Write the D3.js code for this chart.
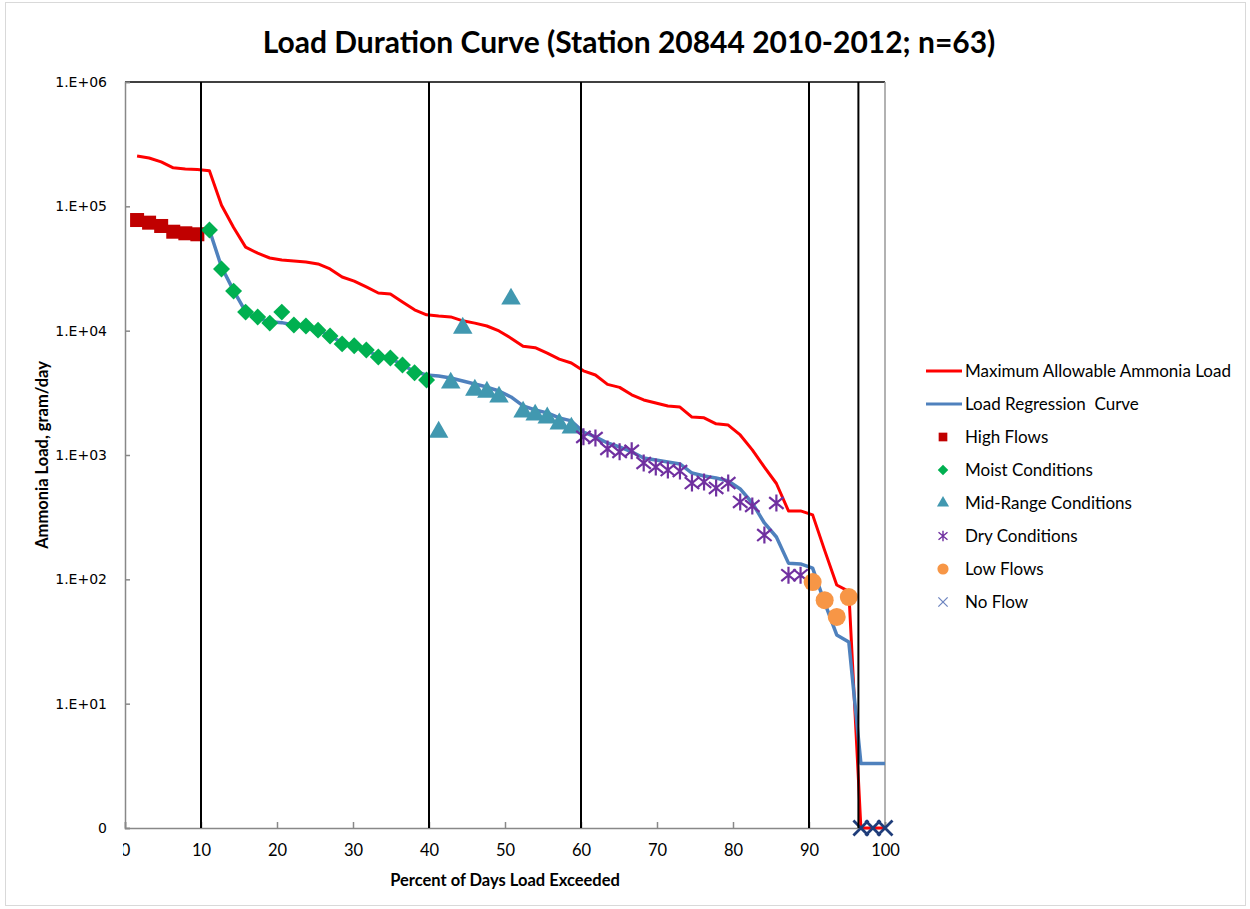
<!DOCTYPE html>
<html>
<head>
<meta charset="utf-8">
<script src="https://cdn.jsdelivr.net/npm/d3@7"></script>
<style>
  body { margin: 0; background: #fff; }
  svg { display: block; }
</style>
</head>
<body>
<div id="chart"></div>
<script>
// data (rank i/63 as percent of days exceeded)
const pctExceeded = [1.59, 3.17, 4.76, 6.35, 7.94, 9.52, 11.11, 12.70, 14.29, 15.87, 17.46, 19.05, 20.63, 22.22, 23.81, 25.40,
  26.98, 28.57, 30.16, 31.75, 33.33, 34.92, 36.51, 38.10, 39.68, 41.27, 42.86, 44.44, 46.03, 47.62, 49.21, 50.79,
  52.38, 53.97, 55.56, 57.14, 58.73, 60.32, 61.90, 63.49, 65.08, 66.67, 68.25, 69.84, 71.43, 73.02, 74.60, 76.19,
  77.78, 79.37, 80.95, 82.54, 84.13, 85.71, 87.30, 88.89, 90.48, 92.06, 93.65, 95.24, 96.83, 98.41, 100.00]

const maxAllowable = [254000, 245000, 228000, 204000, 200000, 198000, 193000, 102000, 67600, 47000, 42000, 38400, 37000,
  36400, 35700, 34400, 31400, 27000, 25000, 22500, 20100, 19700, 17000, 14700, 13400, 13100, 12900, 12000, 11500,
  10900, 9950, 8700, 7500, 7300, 6600, 5900, 5500, 4750, 4400, 3700, 3500, 3050, 2770, 2620, 2480, 2430, 2020, 1990,
  1780, 1740, 1450, 1100, 800, 590, 355, 355, 330, 171, 90, 80, 1, 1, 1]

const regression = [null, null, null, null, null, null, 64500, 32500, 21000, 14200, 12600, 11800, 11600, 11100, 10800,
  10100, 9100, 8000, 7500, 7000, 6200, 6000, 5300, 4700, 4400, 4320, 4160, 3940, 3720, 3520, 3270, 2930, 2480, 2300,
  2180, 1990, 1880, 1530, 1400, 1250, 1160, 1060, 946, 912, 879, 847, 716, 678, 653, 618, 533, 411, 284, 219, 135,
  133, 123, 65, 35.7, 31.3, 3.3, 3.3, 3.3]

const observed = [77600, 73900, 69500, 62500, 60700, 59600,
  64500, 31300, 20800, 14100, 12900, 11500, 14100, 11100, 10900, 10100, 9070, 7830, 7550, 7000, 6150, 6040, 5300, 4580, 4010,
  1530, 3800, 10500, 3330, 3210, 2930, 18000, 2220, 2100, 1990, 1780, 1650,
  1400, 1370, 1120, 1060, 1080, 862, 801, 757, 743, 595, 607, 543, 595, 419, 389, 227, 411, 108, 108,
  95, 68, 49.8, 72,
  1, 1, 1]

const conditions = ["High Flows", "Moist Conditions", "Mid-Range Conditions", "Dry Conditions", "Low Flows", "No Flow"]
const conditionCounts = [6, 19, 12, 19, 4, 3]
const zoneBreaks = [10, 40, 60, 90, 96.5]
const xTicks = [0, 10, 20, 30, 40, 50, 60, 70, 80, 90, 100]
const yTicks = [1, 10, 100, 1000, 10000, 100000, 1000000]

const width = 1250
const height = 909
const margin = {top: 82, bottom: 81, left: 125, right: 365}

const svg = d3.select("div#chart").append("svg").attr("width", width).attr("height", height)
svg.append("rect").attr("x", 5.5).attr("y", 2.5).attr("width", width - 10).attr("height", height - 6)
  .attr("fill", "none").attr("stroke", "#d9d9d9")

const x = d3.scaleLinear().domain([0, 100]).range([margin.left, width - margin.right])
const y = d3.scaleLog().domain([1, 1e6]).range([height - margin.bottom, margin.top])

// title
svg.append("text").attr("x", 629).attr("y", 53).attr("text-anchor", "middle")
  .style("font", "bold 30px Lato").style("fill", "#000")
  .text("Load Duration Curve (Station 20844 2010-2012; n=63)")

// frame
svg.append("line").attr("x1", x(0)).attr("x2", x(100)).attr("y1", y(1e6)).attr("y2", y(1e6))
  .attr("stroke", "#000").attr("stroke-width", 1.5)
svg.append("line").attr("x1", x(100)).attr("x2", x(100)).attr("y1", y(1e6)).attr("y2", y(1))
  .attr("stroke", "#999").attr("stroke-width", 1.5)

// axes
const yAxis = d3.axisLeft(y).tickValues(yTicks).tickSize(-5).tickPadding(18)
  .tickFormat(d => d === 1 ? "0" : "1.E+" + String(Math.round(Math.log10(d))).padStart(2, "0"))
const yAxisGroup = svg.append("g").attr("transform", `translate(${x(0)},0)`).call(yAxis)
yAxisGroup.selectAll("text").style("font", "14px 'DejaVu Sans'").style("fill", "#000")

const xAxis = d3.axisBottom(x).tickValues(xTicks).tickSize(-6).tickPadding(16)
const xAxisGroup = svg.append("g").attr("transform", `translate(0,${y(1)})`).call(xAxis)
xAxisGroup.selectAll("text").style("font", "16.5px Lato").style("fill", "#000")

for (const g of [yAxisGroup, xAxisGroup]) {
  g.select(".domain").attr("stroke", "#888").attr("stroke-width", 1.5)
  g.selectAll(".tick line").attr("stroke", "#888").attr("stroke-width", 1.5)
}
// first x label is cut off in the original
svg.append("rect").attr("x", 108).attr("y", 840).attr("width", 15).attr("height", 25).attr("fill", "#fff")

// axis titles
svg.append("text").attr("x", 505).attr("y", 886).attr("text-anchor", "middle")
  .style("font", "bold 16.5px Lato").text("Percent of Days Load Exceeded")
svg.append("text").attr("transform", "translate(48,455) rotate(-90)").attr("text-anchor", "middle")
  .style("font", "bold 16.5px Lato").text("Ammonia Load, gram/day")

// lines
const rows = pctExceeded.map((p, i) => ({p, max: maxAllowable[i], reg: regression[i], obs: observed[i]}))
const line = key => d3.line().defined(d => d[key] != null).x(d => x(d.p)).y(d => y(d[key]))

const lineGroup = svg.append("g")
lineGroup.append("path").datum(rows).attr("d", line("max"))
  .attr("fill", "none").attr("stroke", "#ff0000").attr("stroke-width", 3).attr("stroke-linejoin", "round")
lineGroup.append("path").datum(rows).attr("d", line("reg"))
  .attr("fill", "none").attr("stroke", "#4f81bd").attr("stroke-width", 3.5).attr("stroke-linejoin", "round")

// assign each point its flow condition
let k = 0
conditionCounts.forEach((n, c) => {
  for (let j = 0; j < n; j++) rows[k++].cond = c
})

const colors = ["#c00000", "#00b050", "#4198b0", "#7030a0", "#f79646", "#1f3d7a"]

function drawMarker(g, c, s) {
  // s = scale factor (1 in plot, smaller in legend)
  if (c === 0) {
    g.append("rect").attr("x", -7 * s).attr("y", -7 * s).attr("width", 14 * s).attr("height", 14 * s).attr("fill", colors[c])
  } else if (c === 1) {
    g.append("rect").attr("x", -6 * s).attr("y", -6 * s).attr("width", 12 * s).attr("height", 12 * s)
      .attr("transform", "rotate(45)").attr("fill", colors[c])
  } else if (c === 2) {
    g.append("path").attr("d", d3.symbol(d3.symbolTriangle, 165 * s * s)()).attr("fill", colors[c])
  } else if (c === 3) {
    const r = 8.5 * s
    g.append("path").attr("d", `M0,${-r}V${r}M${-r * 0.85},${-r * 0.7}L${r * 0.85},${r * 0.7}M${-r * 0.85},${r * 0.7}L${r * 0.85},${-r * 0.7}`)
      .attr("stroke", colors[c]).attr("stroke-width", 2.2 * Math.max(s, 0.65)).attr("fill", "none")
  } else if (c === 4) {
    g.append("circle").attr("r", 9 * s).attr("fill", colors[c])
  } else {
    const r = 7.5 * s
    g.append("path").attr("d", `M${-r},${-r}L${r},${r}M${-r},${r}L${r},${-r}`)
      .attr("stroke", s < 1 ? "#6f86c0" : colors[c]).attr("stroke-width", s < 1 ? 1.3 : 2.8).attr("fill", "none")
  }
}

const markerGroup = svg.append("g")
rows.forEach(d => {
  const g = markerGroup.append("g").attr("transform", `translate(${x(d.p)},${y(d.obs)})`)
  drawMarker(g, d.cond, 1)
})

// zone boundaries drawn on top
svg.append("g").selectAll("line").data(zoneBreaks).join("line")
  .attr("x1", d => x(d)).attr("x2", d => x(d)).attr("y1", y(1e6)).attr("y2", y(1))
  .attr("stroke", "#000").attr("stroke-width", 2)

// legend
const legend = svg.append("g").attr("transform", "translate(926,371)")
const legendItems = ["Maximum Allowable Ammonia Load", "Load Regression  Curve"].concat(conditions)
legendItems.forEach((name, i) => {
  const g = legend.append("g").attr("transform", `translate(0,${i * 33})`)
  if (i === 0) g.append("line").attr("x1", 0).attr("x2", 36).attr("stroke", "#ff0000").attr("stroke-width", 3)
  else if (i === 1) g.append("line").attr("x1", 0).attr("x2", 36).attr("stroke", "#4f81bd").attr("stroke-width", 3)
  else drawMarker(g.append("g").attr("transform", "translate(17,0)"), i - 2, 0.62)
  g.append("text").attr("x", 39).attr("dy", "0.35em").style("font", "17px Lato").style("white-space", "pre").text(name)
})
</script>
</body>
</html>
